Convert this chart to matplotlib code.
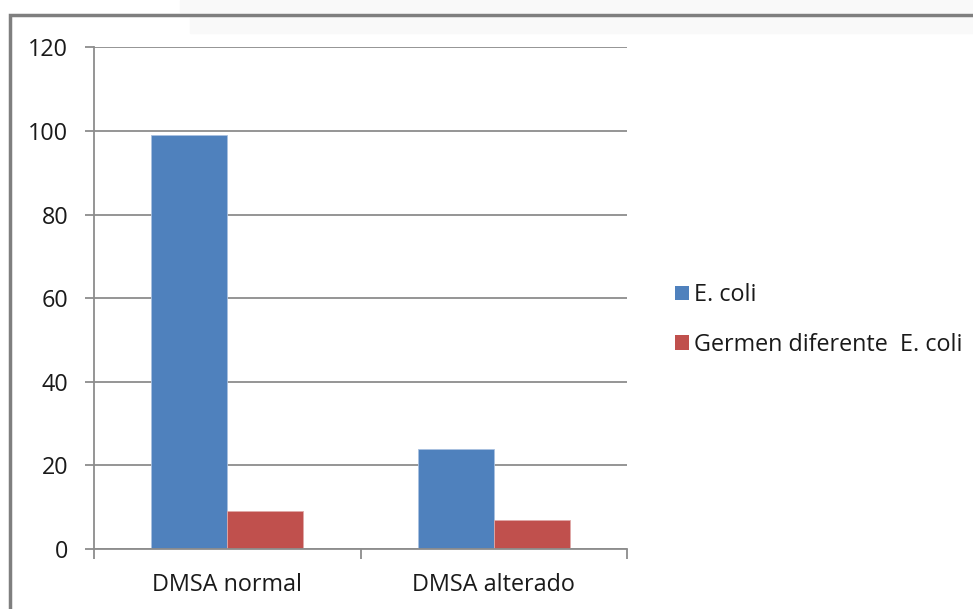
import matplotlib
matplotlib.use('Agg')
import matplotlib.pyplot as plt
from matplotlib.patches import Patch, Rectangle
import numpy as np

categories = ['DMSA normal', 'DMSA alterado']
series_names = ['E. coli', 'Germen diferente  E. coli']
ecoli = [99, 24]
otro = [9, 7]
yticks = [0, 20, 40, 60, 80, 100, 120]

blue = '#4F81BD'
red = '#C0504D'
grid_c = '#8C8C8C'
text_c = '#1A1A1A'
fs = 16.8

plt.rcParams['font.family'] = ['Open Sans', 'DejaVu Sans']

W, H = 973, 609
fig = plt.figure(figsize=(W / 100, H / 100), dpi=100)

# outer chart border and faint shadow at top
fig.patches.append(Rectangle((180 / W, 1 - 12 / H), 1, 12 / H, transform=fig.transFigure,
                             color='#F9F9F9', zorder=0))
fig.patches.append(Rectangle((190 / W, 1 - 33 / H), 1, 16 / H, transform=fig.transFigure,
                             color='#F9F9F9', zorder=0))
fig.patches.append(Rectangle((10 / W, -0.1), 1.2, 1 - 15 / H + 0.1, transform=fig.transFigure,
                             fill=False, edgecolor='#7F7F7F', linewidth=2.5, zorder=1))

ax = fig.add_axes([94 / W, (H - 549) / H, (627 - 94) / W, (549 - 47.3) / H])

x = np.arange(len(categories))
bw = 0.285
ax.bar(x - bw / 2, ecoli, bw, color=blue, edgecolor='#A9C1E0', linewidth=0.6, label=series_names[0], zorder=3)
ax.bar(x + bw / 2, otro, bw, color=red, edgecolor='#E0A9A8', linewidth=0.6, label=series_names[1], zorder=3)

ax.set_xlim(-0.5, len(categories) - 0.5)
ax.set_ylim(0, 120)
ax.set_yticks(yticks)
ax.set_yticklabels([str(v) for v in yticks], fontsize=fs, color=text_c)
ax.set_xticks(x)
ax.set_xticklabels(categories, fontsize=fs, color=text_c)
ax.set_xticks(np.arange(-0.5, len(categories), 1), minor=True)
ax.tick_params(axis='x', which='major', length=0, pad=17)
ax.tick_params(axis='x', which='minor', length=7.5, width=1.3, color=grid_c, direction='out')
ax.tick_params(axis='y', length=6.5, width=1.3, color=grid_c, direction='out', pad=12)

ax.yaxis.grid(True, color=grid_c, linewidth=1.3, zorder=0)
ax.set_axisbelow(True)
for s in ['top', 'right']:
    ax.spines[s].set_visible(False)
for s in ['left', 'bottom']:
    ax.spines[s].set_color(grid_c)
    ax.spines[s].set_linewidth(1.3)
    ax.spines[s].set_zorder(4)

handles = [Patch(facecolor=blue, edgecolor='none'), Patch(facecolor=red, edgecolor='none')]
leg = fig.legend(handles, series_names, loc='center left', bbox_to_anchor=(666 / W, (H - 320) / H),
                 frameon=False, fontsize=fs, handlelength=0.6, handleheight=0.6,
                 handletextpad=0.2, labelspacing=1.1, borderaxespad=0)
for t in leg.get_texts():
    t.set_color(text_c)

fig.savefig('out.png', dpi=100, facecolor='white')
